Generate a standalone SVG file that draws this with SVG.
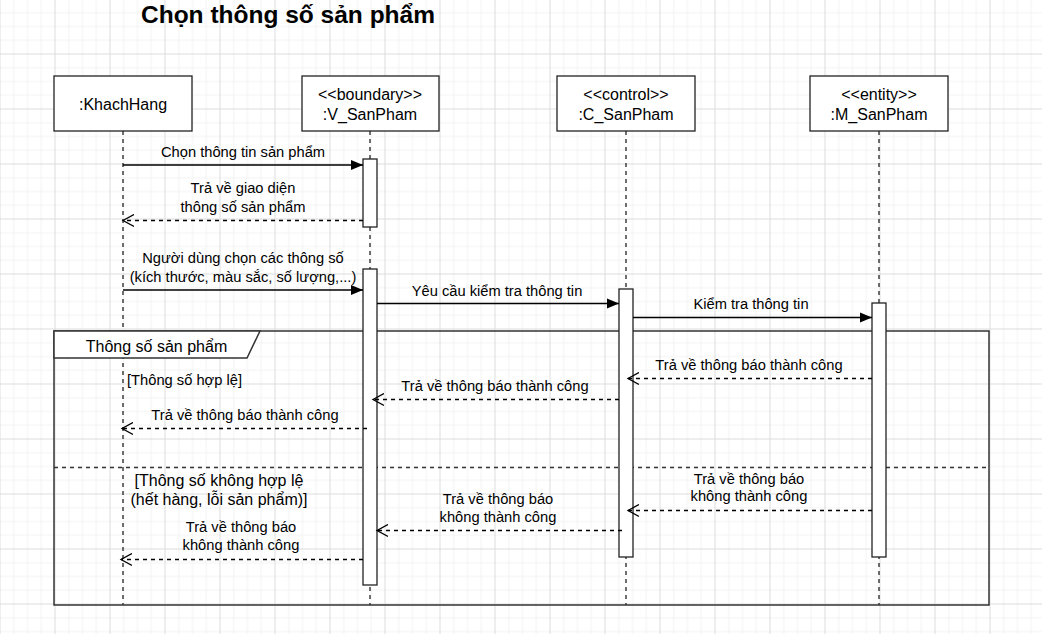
<svg xmlns="http://www.w3.org/2000/svg" width="1042" height="634" viewBox="0 0 1042 634">
  <style>
    text { font-family: "Liberation Sans", Arial, sans-serif; fill: #000; }
    .msg { font-size: 14.7px; text-anchor: middle; }
    .node-label { font-size: 16px; text-anchor: middle; }
    .title { font-size: 24.5px; font-weight: bold; }
    .box { fill: #fff; stroke: #222; stroke-width: 1.3; }
    .act { fill: #fff; stroke: #222; stroke-width: 1.3; }
    .life { stroke: #222; stroke-width: 1.3; stroke-dasharray: 4 4; fill: none; }
    .call { stroke: #000; stroke-width: 1.3; fill: none; marker-end: url(#block); }
    .ret { stroke: #000; stroke-width: 1.3; stroke-dasharray: 4 4; fill: none; marker-end: url(#open); }
    .frame { fill: none; stroke: #333; stroke-width: 1.5; }
  </style>
  <defs>
    <pattern id="grid" x="-0.5" y="-1.5" width="55" height="55" patternUnits="userSpaceOnUse">
      <path d="M14.25 0 V55 M28 0 V55 M41.75 0 V55 M0 14.25 H55 M0 28 H55 M0 41.75 H55" stroke="#f2f2f2" stroke-width="1" fill="none"/>
      <path d="M0.5 0 V55 M0 0.5 H55" stroke="#dcdcdc" stroke-width="1" fill="none"/>
    </pattern>
    <marker id="block" markerUnits="userSpaceOnUse" markerWidth="14" markerHeight="12" refX="12" refY="6" orient="auto">
      <path d="M0,1 L12,6 L0,11 Z" fill="#000"/>
    </marker>
    <marker id="open" markerUnits="userSpaceOnUse" markerWidth="14" markerHeight="14" refX="11" refY="7" orient="auto">
      <path d="M0,1 L11,7 L0,13" fill="none" stroke="#000" stroke-width="1.3"/>
    </marker>
  </defs>

  <rect x="0" y="0" width="1042" height="634" fill="#fff"/>
  <rect x="0" y="0" width="1042" height="634" fill="url(#grid)"/>

  <text class="title" x="288" y="23" text-anchor="middle">Chọn thông số sản phẩm</text>

  <!-- Lifelines -->
  <g id="lifelines">
    <line class="life" x1="123" y1="131" x2="123" y2="605"/>
    <line class="life" x1="370" y1="131" x2="370" y2="605"/>
    <line class="life" x1="626" y1="131" x2="626" y2="605"/>
    <line class="life" x1="879" y1="131" x2="879" y2="605"/>
  </g>

  <!-- Combined fragment -->
  <g id="frame-alt">
    <rect class="frame" x="54" y="331" width="935" height="274"/>
    <path d="M54,331 H260 L247,358 H54 Z" fill="#fff" stroke="#333" stroke-width="1.5"/>
    <text x="156.5" y="351.5" font-size="16px" text-anchor="middle">Thông số sản phẩm</text>
    <line x1="54" y1="467.5" x2="989" y2="467.5" stroke="#333" stroke-width="1.3" stroke-dasharray="4 4"/>
    <text x="127" y="385" font-size="14.7px">[Thông số hợp lệ]</text>
    <text x="219" y="486" font-size="16px" text-anchor="middle">[Thông số không hợp lệ</text>
    <text x="219" y="505" font-size="16px" text-anchor="middle">(hết hàng, lỗi sản phẩm)]</text>
  </g>

  <!-- Nodes -->
  <g id="node-khachhang">
    <rect class="box" x="54" y="76" width="138" height="55"/>
    <text class="node-label" x="123" y="110">:KhachHang</text>
  </g>
  <g id="node-v-sanpham">
    <rect class="box" x="302" y="76" width="137" height="55"/>
    <text class="node-label" x="370" y="100">&lt;&lt;boundary&gt;&gt;</text>
    <text class="node-label" x="370" y="120">:V_SanPham</text>
  </g>
  <g id="node-c-sanpham">
    <rect class="box" x="557" y="76" width="138" height="55"/>
    <text class="node-label" x="626" y="100">&lt;&lt;control&gt;&gt;</text>
    <text class="node-label" x="626" y="120">:C_SanPham</text>
  </g>
  <g id="node-m-sanpham">
    <rect class="box" x="810" y="76" width="138" height="55"/>
    <text class="node-label" x="879" y="100">&lt;&lt;entity&gt;&gt;</text>
    <text class="node-label" x="879" y="120">:M_SanPham</text>
  </g>

  <!-- Activations -->
  <g id="activations">
    <rect class="act" x="363" y="159" width="14" height="68"/>
    <rect class="act" x="363" y="269" width="14" height="316"/>
    <rect class="act" x="619" y="289" width="14" height="268"/>
    <rect class="act" x="872" y="303" width="14" height="254"/>
  </g>

  <!-- Connectors -->
  <g id="connectors">
    <line class="call" x1="123" y1="165" x2="363" y2="165"/>
    <text class="msg" x="243" y="157">Chọn thông tin sản phẩm</text>

    <line class="ret" x1="363" y1="220.5" x2="123" y2="220.5"/>
    <text class="msg" x="243" y="193">Trả về giao diện</text>
    <text class="msg" x="243" y="212">thông số sản phẩm</text>

    <line class="call" x1="123" y1="290" x2="363" y2="290"/>
    <text class="msg" x="243" y="263">Người dùng chọn các thông số</text>
    <text class="msg" x="243" y="282">(kích thước, màu sắc, số lượng,...)</text>

    <line class="call" x1="377" y1="303.5" x2="619" y2="303.5"/>
    <text class="msg" x="497" y="296">Yêu cầu kiểm tra thông tin</text>

    <line class="call" x1="633" y1="317.5" x2="872" y2="317.5"/>
    <text class="msg" x="751" y="308.5">Kiểm tra thông tin</text>

    <line class="ret" x1="872" y1="378.5" x2="628" y2="378.5"/>
    <text class="msg" x="749" y="370">Trả về thông báo thành công</text>

    <line class="ret" x1="619" y1="399.5" x2="373" y2="399.5"/>
    <text class="msg" x="495" y="391">Trả về thông báo thành công</text>

    <line class="ret" x1="367" y1="428.5" x2="122" y2="428.5"/>
    <text class="msg" x="245" y="420">Trả về thông báo thành công</text>

    <line class="ret" x1="872" y1="510.5" x2="628" y2="510.5"/>
    <text class="msg" x="749" y="484">Trả về thông báo</text>
    <text class="msg" x="749" y="501">không thành công</text>

    <line class="ret" x1="622" y1="530.5" x2="377" y2="530.5"/>
    <text class="msg" x="498" y="504">Trả về thông báo</text>
    <text class="msg" x="498" y="522">không thành công</text>

    <line class="ret" x1="363" y1="559.5" x2="121" y2="559.5"/>
    <text class="msg" x="241" y="532">Trả về thông báo</text>
    <text class="msg" x="241" y="550">không thành công</text>
  </g>
</svg>
